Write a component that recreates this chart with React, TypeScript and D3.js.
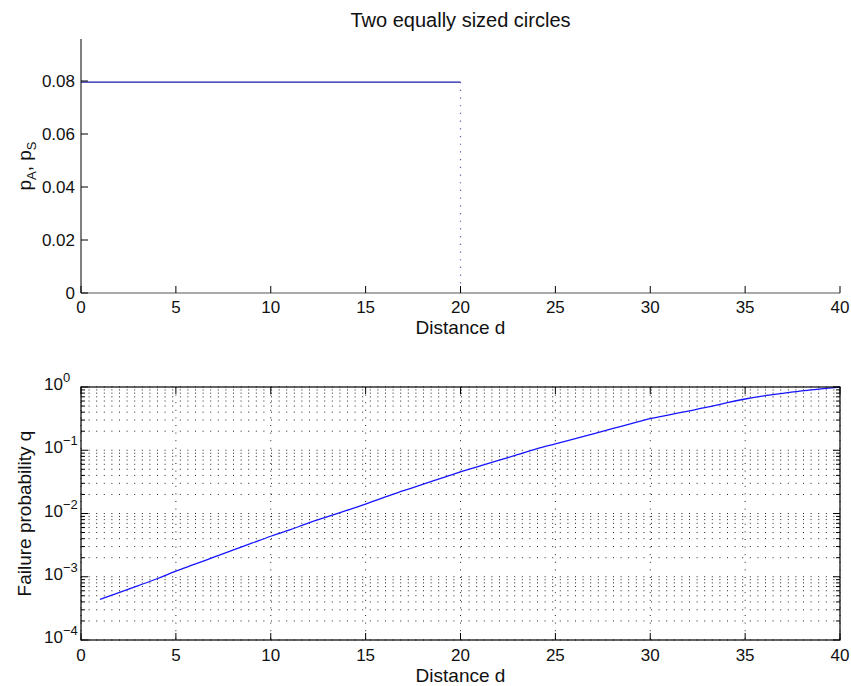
import React from "react";
import * as d3 from "d3";

// ---- Data ----
const xTicks = [0, 5, 10, 15, 20, 25, 30, 35, 40];
const topYTicks = [0, 0.02, 0.04, 0.06, 0.08];
const topYTickLabels = ["0", "0.02", "0.04", "0.06", "0.08"];

// Top plot: p_A, p_S vs distance (flat until d = 20, then drops to zero)
const pDistance = [0, 20];
const pValue = [0.0796, 0.0796];
const dropDistance = [20, 20];
const dropValue = [0.0796, 0];

// Bottom plot: failure probability q vs distance d
const qDistance = [
  1, 2, 3, 4, 5, 6, 7, 8, 9, 10, 11, 12, 13, 14, 15, 16, 17, 18, 19, 20,
  21, 22, 23, 24, 25, 26, 27, 28, 29, 30, 31, 32, 33, 34, 35, 36, 37, 38, 39, 40,
];
const qValue = [
  4.4e-4, 5.6e-4, 7.2e-4, 9.3e-4, 1.23e-3, 1.58e-3, 2.04e-3, 2.63e-3, 3.39e-3, 4.37e-3,
  5.5e-3, 7.1e-3, 8.9e-3, 1.12e-2, 1.41e-2, 1.82e-2, 2.29e-2, 2.88e-2, 3.63e-2, 4.57e-2,
  5.6e-2, 6.9e-2, 8.5e-2, 0.105, 0.126, 0.151, 0.182, 0.219, 0.263, 0.316,
  0.363, 0.417, 0.479, 0.562, 0.646, 0.724, 0.794, 0.871, 0.933, 1.0,
];
const logDecades = [1e-4, 1e-3, 1e-2, 1e-1, 1];
const logDecadeExp = ["\u22124", "\u22123", "\u22122", "\u22121", "0"];

const title = "Two equally sized circles";
const xLabel = "Distance d";
const bottomYLabel = "Failure probability q";

const FONT = "'Liberation Sans', Arial, Helvetica, sans-serif";

export default function App() {
  const L = 81, R = 840;
  const top1 = 39, bot1 = 293;
  const top2 = 387, bot2 = 640;

  const x = d3.scaleLinear().domain([0, 40]).range([L, R]);
  const y1 = d3.scaleLinear().domain([0, 0.09585]).range([bot1, top1]);
  const y2 = d3.scaleLog().domain([1e-4, 1]).range([bot2, top2]);

  const line1 = d3.line<number>().x((d, i) => x(pDistance[i])).y((d) => y1(d));
  const drop = d3.line<number>().x((d, i) => x(dropDistance[i])).y((d) => y1(d));
  const line2 = d3
    .line<number>()
    .x((d, i) => x(qDistance[i]))
    .y((d) => y2(d))
    .curve(d3.curveMonotoneX);

  const allLogTicks = y2.ticks().filter((t) => t >= 1e-4 && t <= 1);
  const minorTicks = allLogTicks.filter(
    (t) => !logDecades.some((dd) => Math.abs(t - dd) / dd < 1e-6)
  );

  const fs = 17;
  const dot = "1 6.6";
  return (
    <svg
      width={851}
      height={686}
      style={{ position: "absolute", left: 0, top: 0, background: "#fff" }}
      fontFamily={FONT}
    >
      <rect x={0} y={0} width={851} height={686} fill="#fff" />
      {/* Title */}
      <text x={(L + R) / 2} y={27} textAnchor="middle" fontSize={20} fill="#111">
        {title}
      </text>

      {/* ---------- Top plot ---------- */}
      <path d={line1(pValue) || ""} stroke="#1a1aa8" strokeWidth={1.3} fill="none" />
      <path
        d={drop(dropValue) || ""}
        stroke="#7a4aa8"
        strokeWidth={1.2}
        strokeDasharray="1.2 6.5"
        fill="none"
      />
      {/* axes */}
      <line x1={L} x2={L} y1={top1} y2={bot1} stroke="#000" strokeWidth={1} />
      <line x1={L} x2={R} y1={bot1} y2={bot1} stroke="#555" strokeWidth={1.2} />
      {topYTicks.map((t, i) => (
        <g key={"ty" + i}>
          <line x1={L} x2={L + 7} y1={y1(t)} y2={y1(t)} stroke="#000" />
          <text x={L - 6} y={y1(t) + 6} textAnchor="end" fontSize={fs} fill="#111">
            {topYTickLabels[i]}
          </text>
        </g>
      ))}
      {xTicks.map((t, i) => (
        <g key={"tx" + i}>
          <line x1={x(t)} x2={x(t)} y1={bot1} y2={bot1 - 7} stroke="#000" />
          <text x={x(t)} y={bot1 + 20} textAnchor="middle" fontSize={fs} fill="#111">
            {t}
          </text>
        </g>
      ))}
      <text x={(L + R) / 2} y={bot1 + 41} textAnchor="middle" fontSize={19} fill="#111">
        {xLabel}
      </text>
      <text
        transform={`translate(${31},${(top1 + bot1) / 2}) rotate(-90)`}
        textAnchor="middle"
        fontSize={19}
        fill="#111"
      >
        p<tspan fontSize={13} dy={5}>A</tspan>
        <tspan dy={-5}>, p</tspan>
        <tspan fontSize={13} dy={5}>S</tspan>
      </text>

      {/* ---------- Bottom plot ---------- */}
      {/* grid */}
      {allLogTicks.map((t, i) => (
        <line
          key={"gh" + i}
          x1={L}
          x2={R}
          y1={y2(t)}
          y2={y2(t)}
          stroke="#222"
          strokeWidth={1}
          strokeDasharray={dot}
        />
      ))}
      {xTicks.map((t, i) => (
        <line
          key={"gv" + i}
          x1={x(t)}
          x2={x(t)}
          y1={top2}
          y2={bot2}
          stroke="#222"
          strokeWidth={1}
          strokeDasharray={dot}
        />
      ))}
      <path d={line2(qValue) || ""} stroke="#1515ff" strokeWidth={1.3} fill="none" />
      {/* box */}
      <rect x={L} y={top2} width={R - L} height={bot2 - top2} fill="none" stroke="#000" strokeWidth={1.2} />
      {/* x ticks */}
      {xTicks.map((t, i) => (
        <g key={"bx" + i}>
          <line x1={x(t)} x2={x(t)} y1={bot2} y2={bot2 - 7} stroke="#000" />
          <line x1={x(t)} x2={x(t)} y1={top2} y2={top2 + 7} stroke="#000" />
          <text x={x(t)} y={bot2 + 21} textAnchor="middle" fontSize={fs} fill="#111">
            {t}
          </text>
        </g>
      ))}
      {/* y ticks */}
      {logDecades.map((t, i) => (
        <g key={"by" + i}>
          <line x1={L} x2={L + 7} y1={y2(t)} y2={y2(t)} stroke="#000" />
          <line x1={R} x2={R - 7} y1={y2(t)} y2={y2(t)} stroke="#000" />
          <text x={44} y={y2(t) + 3} fontSize={fs} fill="#111">
            10
            <tspan fontSize={13} dy={-8}>
              {logDecadeExp[i]}
            </tspan>
          </text>
        </g>
      ))}
      {minorTicks.map((t, i) => (
        <g key={"bm" + i}>
          <line x1={L} x2={L + 4} y1={y2(t)} y2={y2(t)} stroke="#000" />
          <line x1={R} x2={R - 4} y1={y2(t)} y2={y2(t)} stroke="#000" />
        </g>
      ))}
      <text x={(L + R) / 2} y={bot2 + 42} textAnchor="middle" fontSize={19} fill="#111">
        {xLabel}
      </text>
      <text
        transform={`translate(${31},${(top2 + bot2) / 2}) rotate(-90)`}
        textAnchor="middle"
        fontSize={19}
        fill="#111"
      >
        {bottomYLabel}
      </text>
    </svg>
  );
}
